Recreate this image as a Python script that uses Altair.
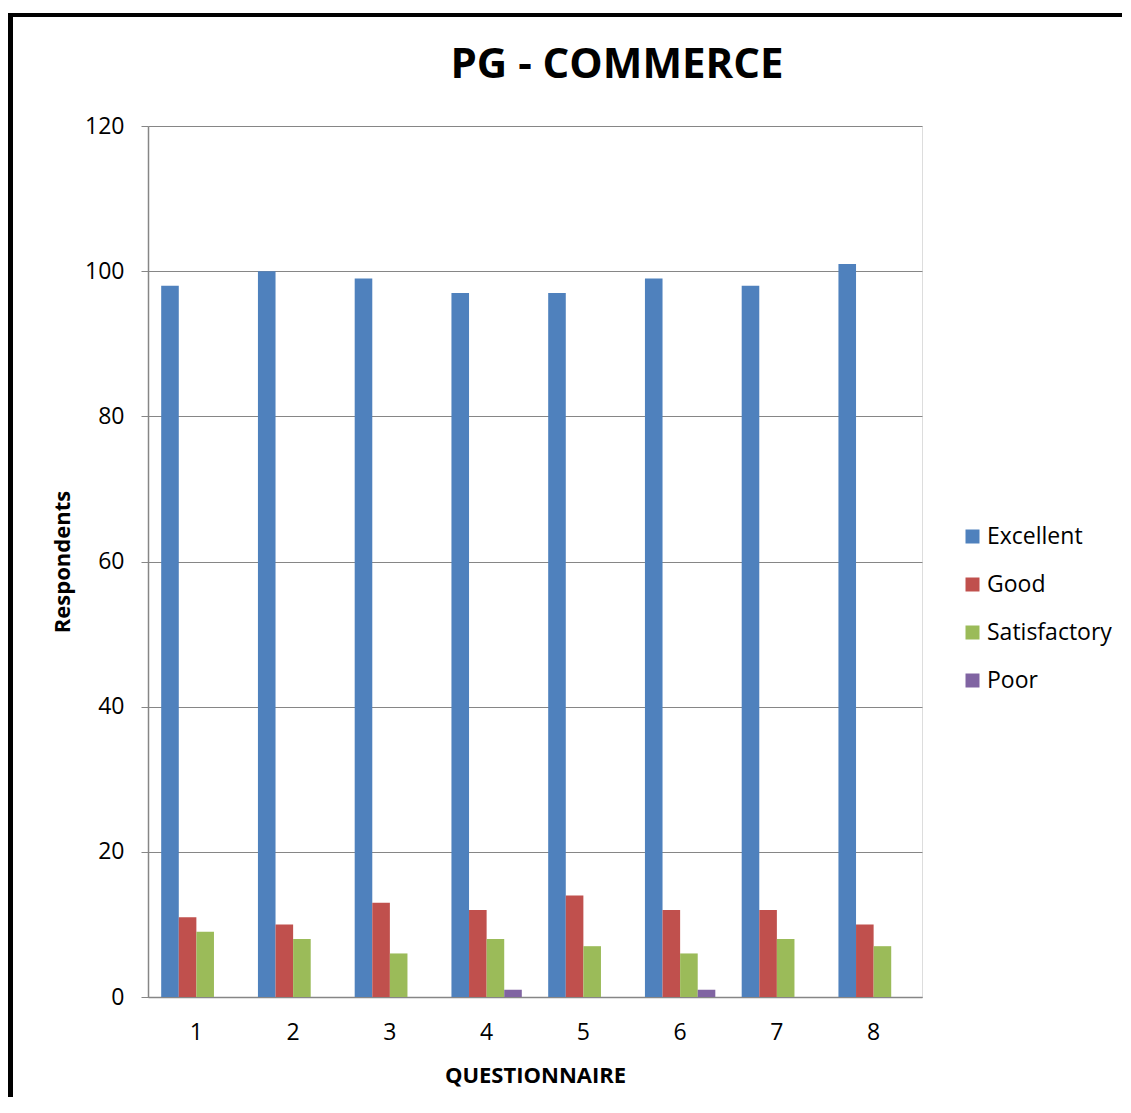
import altair as alt
import pandas as pd

questions = ["1", "2", "3", "4", "5", "6", "7", "8"]
series = ["Excellent", "Good", "Satisfactory", "Poor"]
excellent = [98, 100, 99, 97, 97, 99, 98, 101]
good = [11, 10, 13, 12, 14, 12, 12, 10]
satisfactory = [9, 8, 6, 8, 7, 6, 8, 7]
poor = [0, 0, 0, 1, 0, 1, 0, 0]
colors = ["#4F81BD", "#C0504D", "#9BBB59", "#8064A2"]

rows = []
for s, vals in zip(series, [excellent, good, satisfactory, poor]):
    for q, v in zip(questions, vals):
        rows.append({"Question": q, "Rating": s, "Respondents": v})
df = pd.DataFrame(rows)

FONT = "Open Sans"
W, H = 774, 871

bars = alt.Chart(df).mark_bar().encode(
    x=alt.X("Question:N", sort=questions,
            scale=alt.Scale(paddingInner=0, paddingOuter=0),
            axis=alt.Axis(title="QUESTIONNAIRE", labelAngle=0, ticks=False, tickSize=0,
                          labelPadding=42, labelBaseline="alphabetic",
                          labelFontSize=23, labelFont=FONT, labelColor="#000000",
                          titleFont=FONT, titleFontSize=22, titleFontWeight="bold",
                          titleColor="#000000", titleBaseline="alphabetic",
                          titleX=387, titleY=85, titleAnchor="start",
                          titleAlign="center",
                          domainColor="#868686", domainWidth=1.5, grid=False)),
    xOffset=alt.XOffset("Rating:N", sort=series,
                        scale=alt.Scale(paddingInner=0, paddingOuter=0.75)),
    y=alt.Y("Respondents:Q", scale=alt.Scale(domain=[0, 120], nice=False),
            axis=alt.Axis(values=[0, 20, 40, 60, 80, 100, 120], tickSize=7, tickColor="#868686",
                          labelPadding=17, labelFontSize=23, labelFont=FONT, labelColor="#000000",
                          title="Respondents", titleFont=FONT, titleFontSize=22,
                          titleFontWeight="bold", titleColor="#000000", titleAngle=-90,
                          titleBaseline="alphabetic", titleAlign="center",
                          titleX=-79, titleY=H / 2,
                          domainColor="#868686", domainWidth=1.5,
                          gridColor="#868686", gridWidth=1.2)),
    color=alt.Color("Rating:N", sort=series,
                    scale=alt.Scale(domain=series, range=colors),
                    legend=alt.Legend(title=None, orient="none", legendX=813, legendY=399,
                                      symbolType="square", symbolSize=196, symbolStrokeWidth=0,
                                      labelFontSize=23, labelFont=FONT, labelColor="#000000",
                                      labelOffset=3, rowPadding=24, padding=0)),
)

frame = alt.Data(values=[{}])
left_line = alt.Chart(frame).mark_rule(color="#000000", strokeWidth=5).encode(
    x=alt.value(-137.5), y=alt.value(-113), y2=alt.value(H + 200))
top_line = alt.Chart(frame).mark_rule(color="#000000", strokeWidth=4).encode(
    x=alt.value(-140), x2=alt.value(1100), y=alt.value(-111))

chart = alt.layer(bars, left_line, top_line).properties(
    width=W, height=H,
    title=alt.TitleParams("PG - COMMERCE", font=FONT, fontSize=42, fontWeight="bold",
                          color="#000000", anchor="middle", dx=82, offset=-109,
                          baseline="alphabetic"),
    autosize=alt.AutoSizeParams(type="none"),
    padding={"left": 140, "top": 118, "right": 200, "bottom": 100},
).configure_view(stroke=None).configure(background="#ffffff")

chart.save("out.html", embed_options={"renderer": "svg", "actions": False})
